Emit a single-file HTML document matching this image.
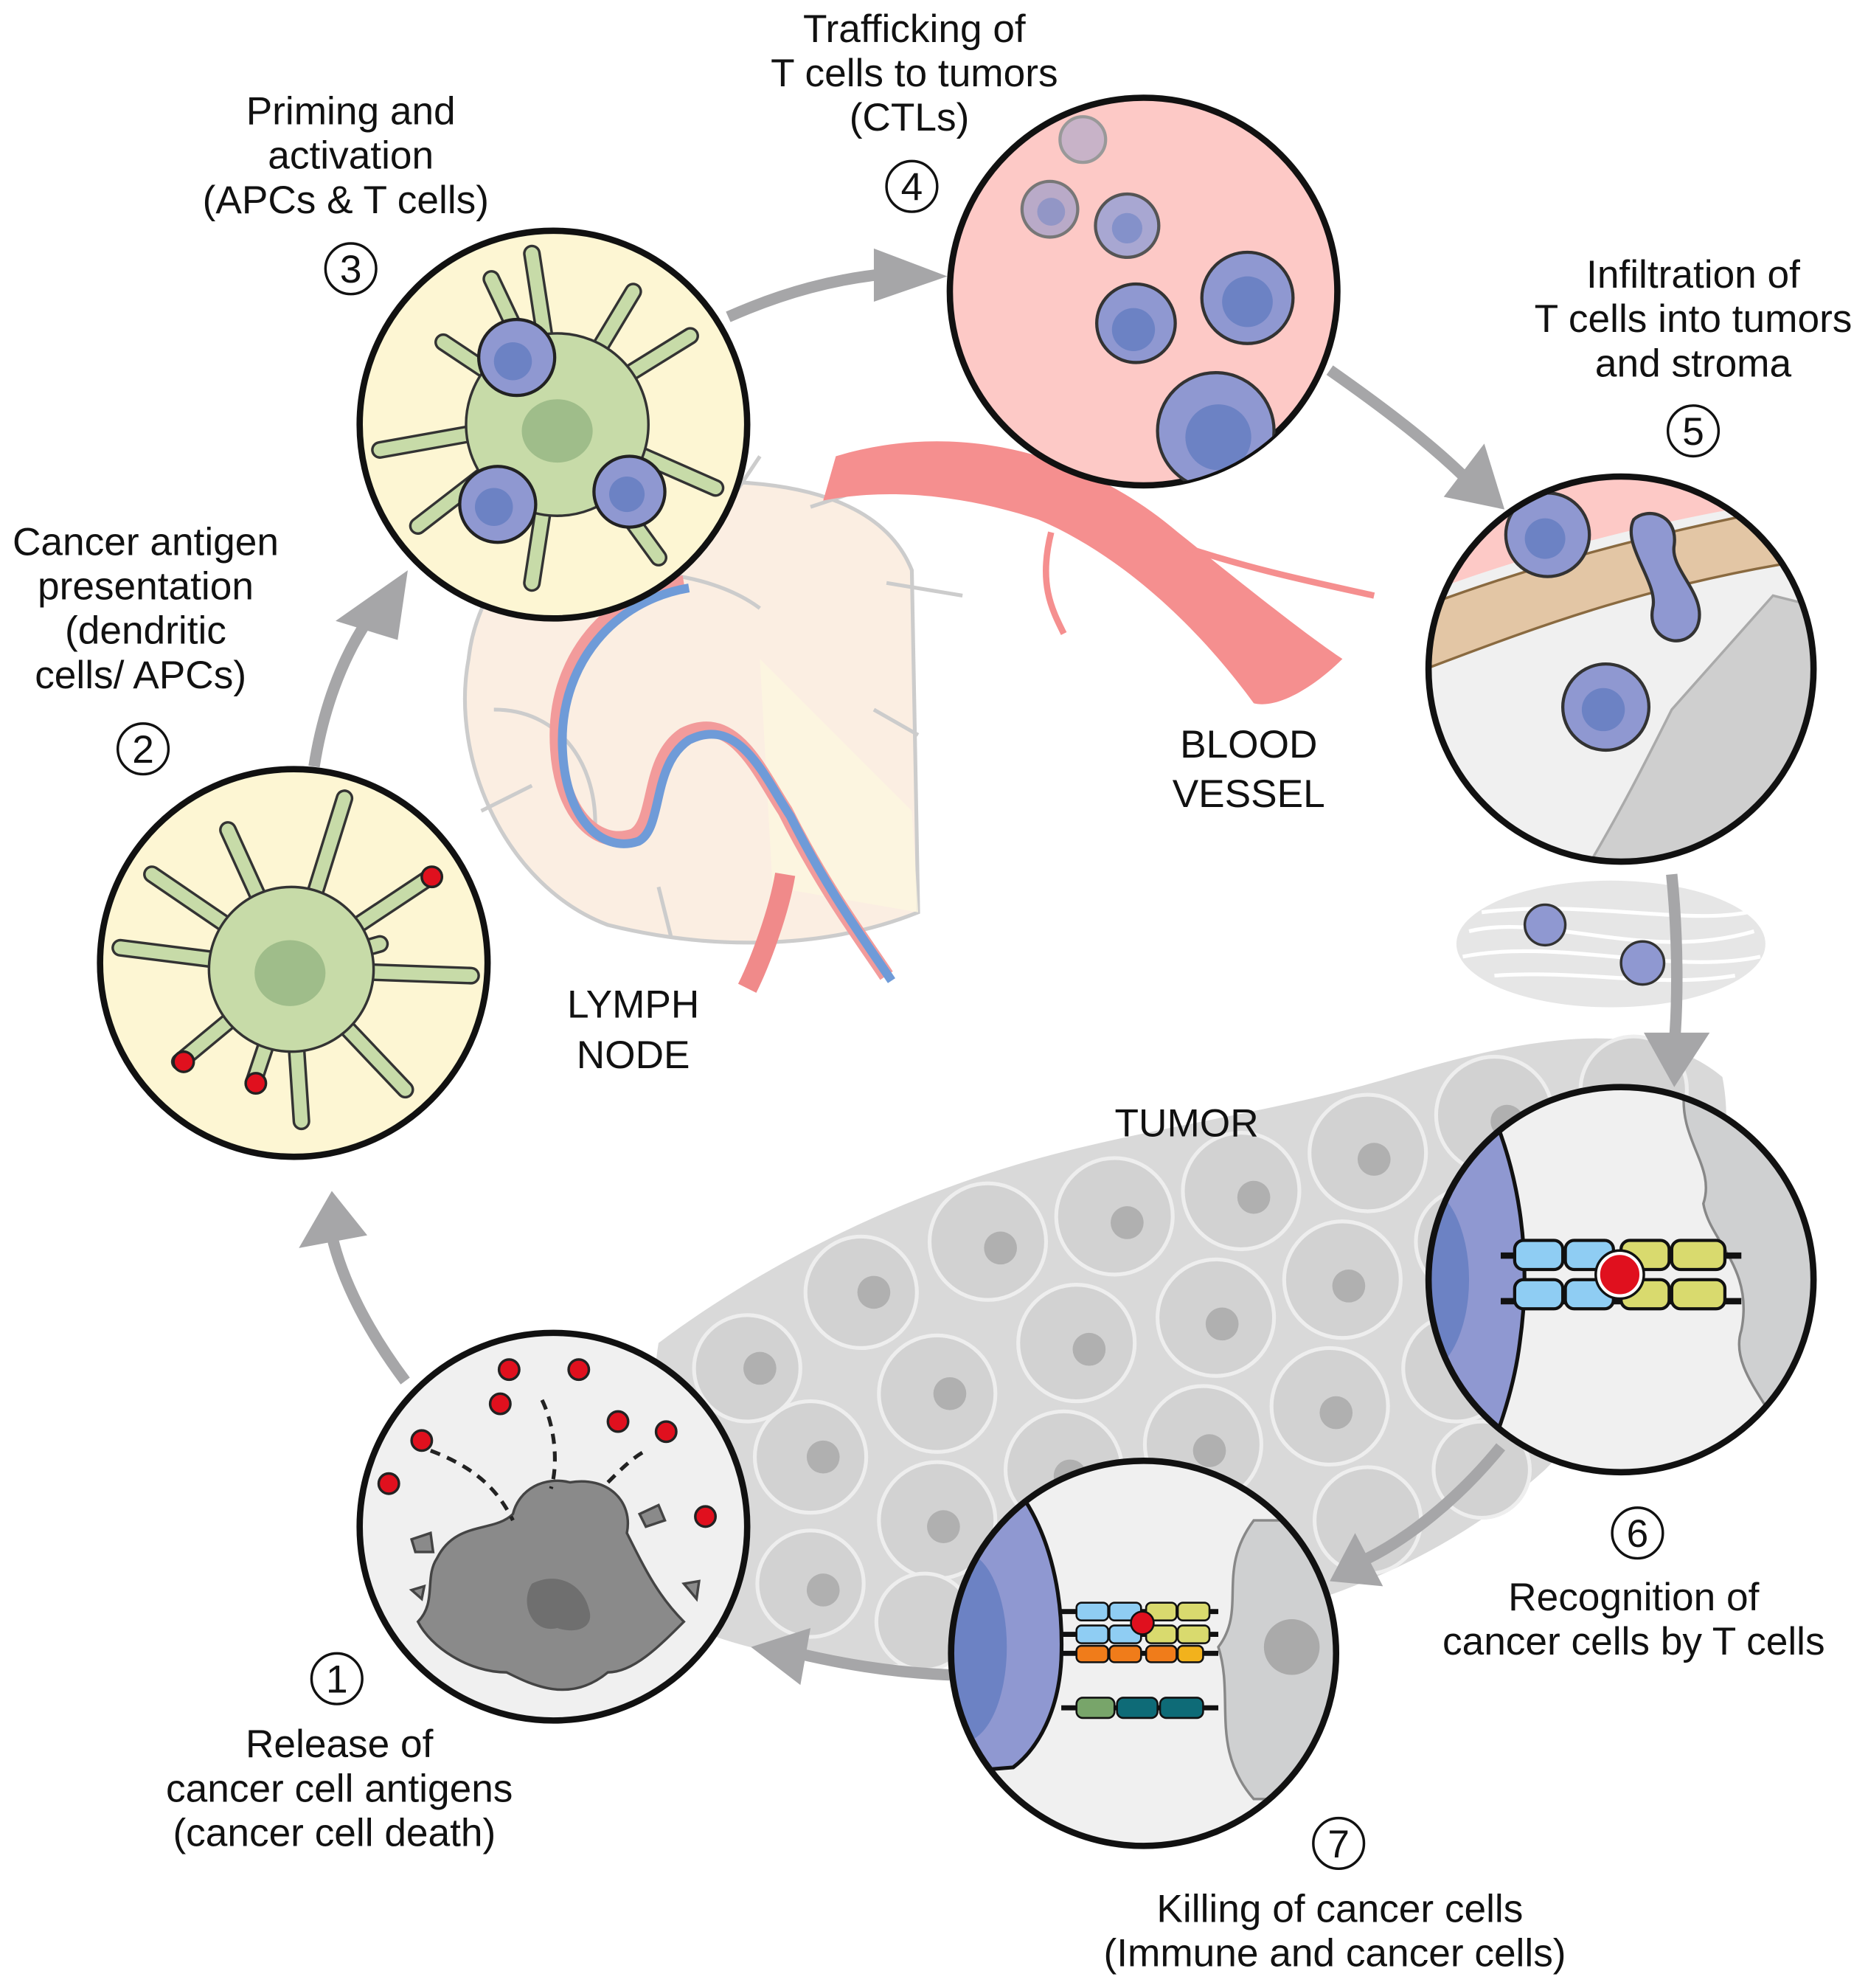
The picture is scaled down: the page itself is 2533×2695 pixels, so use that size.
<!DOCTYPE html>
<html><head><meta charset="utf-8"><style>html,body{margin:0;padding:0;background:#fff}svg{display:block}text{font-family:"Liberation Sans",Arial,sans-serif;fill:#111}</style></head>
<body>
<svg width="2533" height="2695" viewBox="0 0 1475 1569" xmlns="http://www.w3.org/2000/svg">
<defs>
<clipPath id="c1"><circle cx="437" cy="1205" r="153"/></clipPath>
<clipPath id="c4"><circle cx="903" cy="230" r="153"/></clipPath>
<clipPath id="c5"><circle cx="1280" cy="528" r="152"/></clipPath>
<clipPath id="c6"><circle cx="1280" cy="1010" r="152"/></clipPath>
<clipPath id="c7"><circle cx="903" cy="1305" r="152"/></clipPath>
</defs>
<!-- lymph node -->
<path d="M370,520 C380,430 470,380 560,380 C640,380 700,400 720,450 L725,720 C650,750 560,750 480,730 C400,700 355,600 370,520Z" fill="#fbeee2" stroke="#ccc" stroke-width="3"/>
<path d="M420,470 C480,440 560,450 600,480 M390,560 C440,560 470,600 470,650 M560,420 L600,360 M640,400 L700,380 M380,640 L420,620 M520,700 L530,740 M700,460 L760,470 M690,560 L725,580" stroke="#ccc" stroke-width="3" fill="none"/>
<path d="M600,520 L720,640 L725,720 L610,700Z" fill="#fdf6e0" opacity="0.8"/>
<path d="M540,460 C480,470 440,520 440,580 C440,640 470,670 500,660 C520,650 510,600 540,580 C580,560 600,610 620,640 C650,700 680,740 700,770" stroke="#f29b9b" stroke-width="12" fill="none"/>
<path d="M540,460 C480,470 440,520 440,580 C440,640 470,670 500,660 C520,650 510,600 540,580 C580,560 600,610 620,640 C650,700 680,740 700,770" stroke="#6f9bd8" stroke-width="7" fill="none" transform="translate(4,4)"/>
<path d="M620,690 C615,720 600,760 590,780" stroke="#f08a8a" stroke-width="16" fill="none"/>
<!-- blood vessel -->
<path d="M660,360 C760,330 860,360 930,420 C980,460 1030,500 1060,520 C1040,540 1010,560 990,555 C950,500 890,440 820,410 C760,390 700,385 650,395Z" fill="#f58f8f"/>
<path d="M830,420 C820,460 830,480 840,500 M930,430 C990,450 1040,460 1085,470" stroke="#f58f8f" stroke-width="5" fill="none"/>
<!-- tumor -->
<path d="M520,1060 C600,1000 700,950 800,920 C900,890 1000,880 1100,850 C1200,820 1300,800 1360,850 C1380,950 1300,1080 1220,1160 C1120,1250 1000,1280 880,1300 C760,1320 640,1320 560,1290 C520,1240 510,1120 520,1060Z" fill="#d9d9d9"/>
<g fill="#d2d2d2" stroke="#eee" stroke-width="3">
<circle cx="590" cy="1080" r="42"/><circle cx="680" cy="1020" r="44"/><circle cx="780" cy="980" r="46"/><circle cx="880" cy="960" r="46"/><circle cx="980" cy="940" r="46"/><circle cx="1080" cy="910" r="46"/><circle cx="1180" cy="880" r="46"/><circle cx="1290" cy="860" r="42"/>
<circle cx="640" cy="1150" r="44"/><circle cx="740" cy="1100" r="46"/><circle cx="850" cy="1060" r="46"/><circle cx="960" cy="1040" r="46"/><circle cx="1060" cy="1010" r="46"/><circle cx="1160" cy="980" r="42"/>
<circle cx="640" cy="1250" r="42"/><circle cx="740" cy="1200" r="46"/><circle cx="840" cy="1160" r="46"/><circle cx="950" cy="1140" r="46"/><circle cx="1050" cy="1110" r="46"/><circle cx="1150" cy="1080" r="42"/>
<circle cx="730" cy="1280" r="38"/><circle cx="1080" cy="1200" r="42"/><circle cx="1170" cy="1160" r="38"/>
</g>
<g fill="#b0b0b0">
<circle cx="600" cy="1080" r="13"/><circle cx="690" cy="1020" r="13"/><circle cx="790" cy="985" r="13"/><circle cx="890" cy="965" r="13"/><circle cx="990" cy="945" r="13"/><circle cx="1085" cy="915" r="13"/><circle cx="1190" cy="885" r="13"/><circle cx="650" cy="1150" r="13"/><circle cx="750" cy="1100" r="13"/><circle cx="860" cy="1065" r="13"/><circle cx="965" cy="1045" r="13"/><circle cx="1065" cy="1015" r="13"/><circle cx="650" cy="1255" r="13"/><circle cx="745" cy="1205" r="13"/><circle cx="845" cy="1165" r="13"/><circle cx="955" cy="1145" r="13"/><circle cx="1055" cy="1115" r="13"/>
</g>
<!-- stroma ellipse -->
<ellipse cx="1272" cy="745" rx="122" ry="50" fill="#e6e6e6"/>
<path d="M1160,735 C1220,720 1300,760 1385,735 M1155,755 C1230,740 1320,770 1390,755 M1170,720 C1250,710 1330,730 1380,720 M1180,770 C1250,765 1310,780 1370,770" stroke="#fff" stroke-width="3" fill="none"/>
<circle cx="1220" cy="730" r="16" fill="#8f98d1" stroke="#333" stroke-width="2"/><circle cx="1297" cy="760" r="17" fill="#8f98d1" stroke="#333" stroke-width="2"/>
<!-- arrows -->
<g fill="none" stroke="#a6a6a8" stroke-width="9">
<path d="M320,1090 C290,1050 270,1010 262,975"/>
<path d="M248,605 C255,560 270,520 290,490"/>
<path d="M575,250 C620,230 660,220 700,216"/>
<path d="M1050,292 C1090,320 1130,350 1160,380"/>
<path d="M1320,690 C1325,740 1325,790 1322,825"/>
<path d="M1185,1142 C1150,1185 1110,1215 1080,1230"/>
<path d="M750,1322 C700,1320 660,1312 630,1305"/>
</g>
<g fill="#a6a6a8">
<polygon points="236,985 262,940 290,975"/>
<polygon points="265,490 322,450 314,505"/>
<polygon points="690,196 748,218 690,238"/>
<polygon points="1140,392 1188,402 1172,350"/>
<polygon points="1298,815 1322,858 1350,815"/>
<polygon points="1092,1252 1050,1248 1070,1210"/>
<polygon points="640,1285 593,1300 632,1330"/>
</g>
<!-- circle 3 -->
<circle cx="437" cy="335" r="153" fill="#fdf6d3" stroke="#111" stroke-width="5"/>
<g stroke-linecap="round">
<g stroke="#333" stroke-width="14"><path d="M440,330 L420,200 M440,330 L500,230 M440,330 L545,265 M440,330 L565,385 M440,330 L520,440 M440,330 L420,460 M440,330 L330,415 M440,330 L300,355 M440,330 L350,270 M440,330 L388,220"/></g>
<g stroke="#c7dba8" stroke-width="10"><path d="M440,330 L420,200 M440,330 L500,230 M440,330 L545,265 M440,330 L565,385 M440,330 L520,440 M440,330 L420,460 M440,330 L330,415 M440,330 L300,355 M440,330 L350,270 M440,330 L388,220"/></g>
</g>
<circle cx="440" cy="335" r="72" fill="#c7dba8" stroke="#333" stroke-width="2"/>
<ellipse cx="440" cy="340" rx="28" ry="25" fill="#9fbd8a"/>
<g stroke="#222" stroke-width="2.5"><circle cx="408" cy="282" r="30" fill="#8f98d1"/><circle cx="393" cy="398" r="30" fill="#8f98d1"/><circle cx="497" cy="388" r="28" fill="#8f98d1"/></g>
<g fill="#6c82c4"><circle cx="405" cy="285" r="15"/><circle cx="390" cy="400" r="15"/><circle cx="495" cy="390" r="14"/></g>
<!-- circle 2 -->
<circle cx="232" cy="760" r="153" fill="#fdf6d3" stroke="#111" stroke-width="5"/>
<g stroke-linecap="round">
<g stroke="#333" stroke-width="14"><path d="M230,765 L272,630 M230,765 L180,655 M230,765 L340,692 M230,765 L372,770 M230,765 L320,860 M230,765 L238,885 M230,765 L200,855 M230,765 L142,838 M230,765 L95,748 M230,765 L120,690 M230,765 L300,745"/></g>
<g stroke="#c7dba8" stroke-width="10"><path d="M230,765 L272,630 M230,765 L180,655 M230,765 L340,692 M230,765 L372,770 M230,765 L320,860 M230,765 L238,885 M230,765 L200,855 M230,765 L142,838 M230,765 L95,748 M230,765 L120,690 M230,765 L300,745"/></g>
</g>
<circle cx="230" cy="765" r="65" fill="#c7dba8" stroke="#333" stroke-width="2"/>
<ellipse cx="229" cy="768" rx="28" ry="26" fill="#9fbd8a"/>
<g fill="#e0101e" stroke="#222" stroke-width="2"><circle cx="341" cy="692" r="8"/><circle cx="145" cy="838" r="8"/><circle cx="202" cy="855" r="8"/></g>
<!-- circle 4 -->
<circle cx="903" cy="230" r="153" fill="#fdc9c6" stroke="#111" stroke-width="5"/>
<g clip-path="url(#c4)" stroke="#333" stroke-width="2.5">
<circle cx="855" cy="110" r="18" fill="#c8b3c8" stroke="#999"/><circle cx="829" cy="165" r="22" fill="#b9aac8" stroke="#777"/><circle cx="890" cy="178" r="25" fill="#a8a7d2" stroke="#555"/>
<circle cx="897" cy="255" r="31" fill="#8f98d1"/><circle cx="985" cy="235" r="36" fill="#8f98d1"/><circle cx="960" cy="340" r="46" fill="#8f98d1"/>
</g>
<g clip-path="url(#c4)" fill="#6c82c4"><circle cx="895" cy="260" r="17"/><circle cx="985" cy="238" r="20"/><circle cx="962" cy="345" r="26"/><circle cx="830" cy="167" r="11" opacity=".5"/><circle cx="890" cy="180" r="12" opacity=".6"/></g>
<!-- circle 5 -->
<circle cx="1280" cy="528" r="152" fill="#f0f0f0"/>
<g clip-path="url(#c5)">
<path d="M1120,470 C1200,440 1300,410 1440,390 L1440,360 L1120,360Z" fill="#fdc9c6"/>
<path d="M1120,480 C1200,450 1300,420 1440,395 L1440,440 C1300,460 1200,500 1120,530Z" fill="#e3c6a5" stroke="#8a6a40" stroke-width="2"/>
<path d="M1320,560 L1400,470 L1440,480 L1440,690 L1250,690 C1280,640 1300,600 1320,560Z" fill="#cfcfcf" stroke="#aaa" stroke-width="2"/>
<circle cx="1222" cy="422" r="33" fill="#8f98d1" stroke="#333" stroke-width="2.5"/><circle cx="1220" cy="425" r="16" fill="#6c82c4"/>
<path d="M1290,410 C1300,400 1325,405 1322,430 C1318,450 1350,470 1340,495 C1330,515 1300,505 1305,480 C1310,460 1280,430 1290,410Z" fill="#8f98d1" stroke="#333" stroke-width="2.5"/>
<circle cx="1268" cy="558" r="34" fill="#8f98d1" stroke="#333" stroke-width="2.5"/><circle cx="1266" cy="560" r="17" fill="#6c82c4"/>
</g>
<circle cx="1280" cy="528" r="152" fill="none" stroke="#111" stroke-width="5"/>
<!-- circle 6 -->
<circle cx="1280" cy="1010" r="152" fill="#f0f0f0"/>
<g clip-path="url(#c6)">
<path d="M1100,850 L1170,860 C1200,920 1210,990 1200,1060 C1195,1100 1180,1140 1170,1160 L1100,1160Z" fill="#8f98d1" stroke="#111" stroke-width="3"/>
<ellipse cx="1120" cy="1010" rx="40" ry="75" fill="#6c82c4"/>
<path d="M1440,860 L1330,860 C1325,900 1355,920 1345,950 C1350,980 1385,1000 1375,1050 C1365,1080 1400,1110 1410,1140 L1440,1140Z" fill="#cfd0d1" stroke="#888" stroke-width="2"/>
</g>
<circle cx="1280" cy="1010" r="152" fill="none" stroke="#111" stroke-width="5"/>
<g stroke="#111" stroke-width="5"><line x1="1185" y1="991" x2="1375" y2="991"/><line x1="1185" y1="1027" x2="1375" y2="1027"/></g>
<g stroke="#111" stroke-width="2.5">
<rect x="1196" y="979" width="38" height="23" rx="7" fill="#8fcdf3"/><rect x="1236" y="979" width="38" height="23" rx="7" fill="#8fcdf3"/><rect x="1196" y="1010" width="38" height="23" rx="7" fill="#8fcdf3"/><rect x="1236" y="1010" width="38" height="23" rx="7" fill="#8fcdf3"/>
<rect x="1280" y="979" width="38" height="23" rx="7" fill="#d9da6e"/><rect x="1320" y="979" width="42" height="23" rx="7" fill="#d9da6e"/><rect x="1280" y="1010" width="38" height="23" rx="7" fill="#d9da6e"/><rect x="1320" y="1010" width="42" height="23" rx="7" fill="#d9da6e"/>
<circle cx="1279" cy="1006" r="17" fill="#e0101e" stroke="#fff" stroke-width="3"/>
</g>
<circle cx="1279" cy="1006" r="19" fill="none" stroke="#111" stroke-width="2"/>
<!-- circle 7 -->
<circle cx="903" cy="1305" r="152" fill="#f0f0f0"/>
<g clip-path="url(#c7)">
<path d="M740,1150 L790,1160 C830,1200 840,1260 838,1310 C836,1350 820,1380 800,1395 L740,1400Z" fill="#8f98d1" stroke="#111" stroke-width="3"/>
<ellipse cx="760" cy="1300" rx="35" ry="75" fill="#6c82c4"/>
<path d="M1060,1200 L990,1200 C960,1240 985,1270 962,1300 C975,1340 955,1380 990,1420 L1060,1420Z" fill="#cfd0d1" stroke="#888" stroke-width="2"/>
<circle cx="1020" cy="1300" r="22" fill="#aaa"/>
</g>
<circle cx="903" cy="1305" r="152" fill="none" stroke="#111" stroke-width="5"/>
<g stroke="#111" stroke-width="4"><line x1="838" y1="1272" x2="962" y2="1272"/><line x1="838" y1="1290" x2="962" y2="1290"/><line x1="838" y1="1305" x2="962" y2="1305"/><line x1="838" y1="1348" x2="962" y2="1348"/></g>
<g stroke="#111" stroke-width="1.5">
<rect x="850" y="1265" width="25" height="14" rx="4" fill="#8fcdf3"/><rect x="876" y="1265" width="25" height="14" rx="4" fill="#8fcdf3"/><rect x="850" y="1283" width="25" height="14" rx="4" fill="#8fcdf3"/><rect x="876" y="1283" width="25" height="14" rx="4" fill="#8fcdf3"/>
<rect x="905" y="1265" width="24" height="14" rx="4" fill="#d9da6e"/><rect x="930" y="1265" width="25" height="14" rx="4" fill="#d9da6e"/><rect x="905" y="1283" width="24" height="14" rx="4" fill="#d9da6e"/><rect x="930" y="1283" width="25" height="14" rx="4" fill="#d9da6e"/>
<rect x="850" y="1299" width="25" height="13" rx="4" fill="#f07c1a"/><rect x="876" y="1299" width="25" height="13" rx="4" fill="#f07c1a"/><rect x="905" y="1299" width="24" height="13" rx="4" fill="#f07c1a"/><rect x="930" y="1299" width="20" height="13" rx="4" fill="#f2b21c"/>
<rect x="850" y="1340" width="30" height="16" rx="5" fill="#78a56a"/><rect x="882" y="1340" width="32" height="16" rx="5" fill="#0e6b77"/><rect x="916" y="1340" width="34" height="16" rx="5" fill="#0e6b77"/>
<circle cx="902" cy="1281" r="9" fill="#e0101e"/>
</g>
<!-- circle 1 -->
<circle cx="437" cy="1205" r="153" fill="#f0f0f0"/>
<g clip-path="url(#c1)">
<path d="M345,1230 C360,1200 390,1210 405,1195 C410,1175 430,1165 450,1170 C480,1165 500,1185 495,1210 C510,1240 520,1260 540,1280 C520,1300 500,1320 480,1320 C450,1345 420,1330 400,1320 C370,1320 340,1300 330,1280 C345,1265 335,1245 345,1230Z" fill="#8a8a8a" stroke="#444" stroke-width="2"/>
<path d="M420,1250 C440,1240 460,1250 465,1270 C470,1285 455,1290 440,1285 C420,1290 410,1265 420,1250Z" fill="#6f6f6f"/>
<path d="M325,1215 L340,1210 L342,1225 L328,1225Z M505,1195 L520,1188 L525,1200 L510,1205Z M540,1250 L552,1248 L550,1262 Z M325,1255 L335,1252 L333,1262Z" fill="#8a8a8a" stroke="#444" stroke-width="2"/>
</g>
<circle cx="437" cy="1205" r="153" fill="none" stroke="#111" stroke-width="5"/>
<g fill="none" stroke="#222" stroke-width="3" stroke-dasharray="8,6"><path d="M340,1145 C380,1160 395,1180 405,1200"/><path d="M428,1105 C440,1130 440,1160 435,1175"/><path d="M480,1170 C490,1160 500,1150 510,1145"/></g>
<g fill="#e0101e" stroke="#222" stroke-width="2"><circle cx="402" cy="1081" r="8"/><circle cx="457" cy="1081" r="8"/><circle cx="395" cy="1108" r="8"/><circle cx="488" cy="1122" r="8"/><circle cx="333" cy="1137" r="8"/><circle cx="526" cy="1130" r="8"/><circle cx="307" cy="1171" r="8"/><circle cx="557" cy="1197" r="8"/></g>
<!-- number circles -->
<g fill="none" stroke="#111" stroke-width="2">
<circle cx="277" cy="212" r="20"/><circle cx="113" cy="591" r="20"/><circle cx="720" cy="147" r="20"/><circle cx="1337" cy="340" r="20"/><circle cx="1293" cy="1210" r="20"/><circle cx="1057" cy="1455" r="20"/><circle cx="266" cy="1325" r="20"/>
</g>
<g font-size="31" text-anchor="middle">
<text x="277" y="223">3</text><text x="113" y="602">2</text><text x="720" y="158">4</text><text x="1337" y="351">5</text><text x="1293" y="1221">6</text><text x="1057" y="1466">7</text><text x="266" y="1336">1</text>
</g>
<g font-size="31" text-anchor="middle">
<text x="277" y="98">Priming and</text><text x="277" y="133">activation</text><text x="273" y="168">(APCs &amp; T cells)</text>
<text x="722" y="33">Trafficking of</text><text x="722" y="68">T cells to tumors</text><text x="718" y="103">(CTLs)</text>
<text x="1337" y="227">Infiltration of</text><text x="1337" y="262">T cells into tumors</text><text x="1337" y="297">and stroma</text>
<text x="115" y="438">Cancer antigen</text><text x="115" y="473">presentation</text><text x="115" y="508">(dendritic</text><text x="111" y="543">cells/ APCs)</text>
<text x="986" y="598">BLOOD</text><text x="986" y="637">VESSEL</text>
<text x="500" y="803">LYMPH</text><text x="500" y="843">NODE</text>
<text x="937" y="897">TUMOR</text>
<text x="1290" y="1271">Recognition of</text><text x="1290" y="1306">cancer cells by T cells</text>
<text x="268" y="1387">Release of</text><text x="268" y="1422">cancer cell antigens</text><text x="264" y="1457">(cancer cell death)</text>
<text x="1058" y="1517">Killing of cancer cells</text><text x="1054" y="1552">(Immune and cancer cells)</text>
</g>
</svg>
</body></html>
